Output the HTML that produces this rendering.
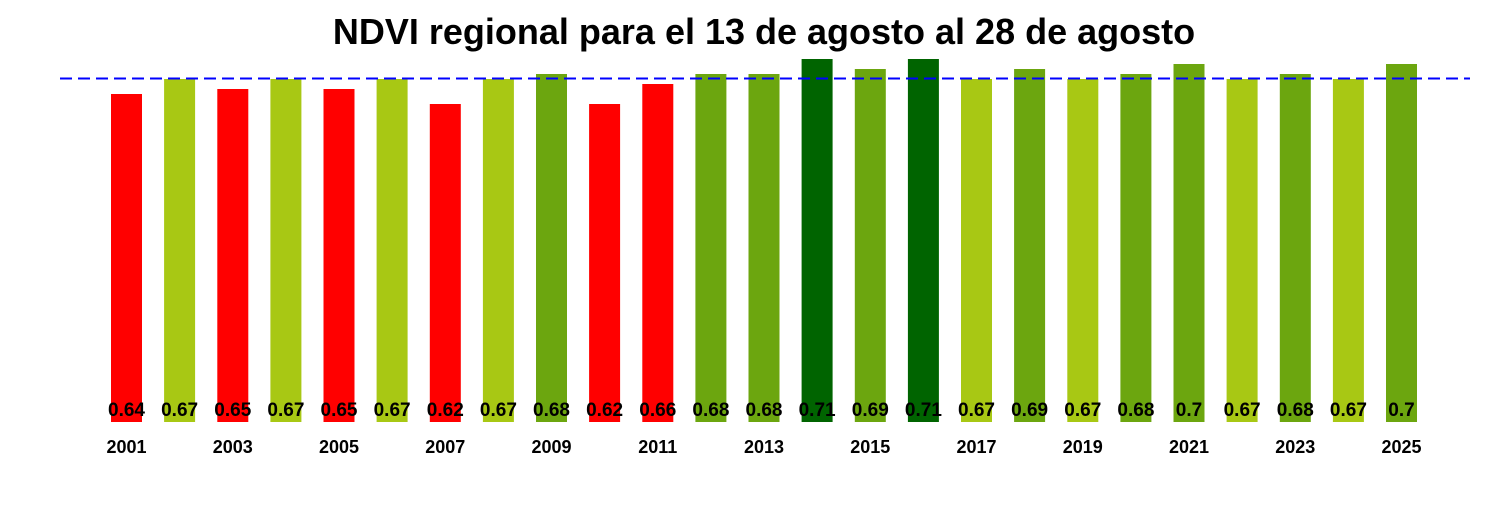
<!DOCTYPE html>
<html><head><meta charset="utf-8"><style>body{margin:0;background:#fff}</style></head><body>
<svg width="1500" height="500" xmlns="http://www.w3.org/2000/svg" font-family="Liberation Sans, Arial, sans-serif" font-weight="bold">
<rect width="1500" height="500" fill="#fff"/>
<text x="764" y="44" font-size="36" text-anchor="middle">NDVI regional para el 13 de agosto al 28 de agosto</text>
<g>
<rect x="111" y="94" width="31" height="328" fill="#ff0000"/>
<rect x="164.1" y="79" width="31" height="343" fill="#a8c814"/>
<rect x="217.3" y="89" width="31" height="333" fill="#ff0000"/>
<rect x="270.4" y="79" width="31" height="343" fill="#a8c814"/>
<rect x="323.5" y="89" width="31" height="333" fill="#ff0000"/>
<rect x="376.6" y="79" width="31" height="343" fill="#a8c814"/>
<rect x="429.8" y="104" width="31" height="318" fill="#ff0000"/>
<rect x="482.9" y="79" width="31" height="343" fill="#a8c814"/>
<rect x="536" y="74" width="31" height="348" fill="#6ca60f"/>
<rect x="589.1" y="104" width="31" height="318" fill="#ff0000"/>
<rect x="642.3" y="84" width="31" height="338" fill="#ff0000"/>
<rect x="695.4" y="74" width="31" height="348" fill="#6ca60f"/>
<rect x="748.5" y="74" width="31" height="348" fill="#6ca60f"/>
<rect x="801.6" y="59" width="31" height="363" fill="#006400"/>
<rect x="854.8" y="69" width="31" height="353" fill="#6ca60f"/>
<rect x="907.9" y="59" width="31" height="363" fill="#006400"/>
<rect x="961" y="79" width="31" height="343" fill="#a8c814"/>
<rect x="1014.1" y="69" width="31" height="353" fill="#6ca60f"/>
<rect x="1067.3" y="79" width="31" height="343" fill="#a8c814"/>
<rect x="1120.4" y="74" width="31" height="348" fill="#6ca60f"/>
<rect x="1173.5" y="64" width="31" height="358" fill="#6ca60f"/>
<rect x="1226.6" y="79" width="31" height="343" fill="#a8c814"/>
<rect x="1279.8" y="74" width="31" height="348" fill="#6ca60f"/>
<rect x="1332.9" y="79" width="31" height="343" fill="#a8c814"/>
<rect x="1386" y="64" width="31" height="358" fill="#6ca60f"/>
</g>
<g font-size="19" text-anchor="middle">
<text x="126.5" y="416">0.64</text><text x="179.6" y="416">0.67</text><text x="232.8" y="416">0.65</text><text x="285.9" y="416">0.67</text><text x="339" y="416">0.65</text><text x="392.1" y="416">0.67</text><text x="445.3" y="416">0.62</text><text x="498.4" y="416">0.67</text><text x="551.5" y="416">0.68</text><text x="604.6" y="416">0.62</text><text x="657.8" y="416">0.66</text><text x="710.9" y="416">0.68</text><text x="764" y="416">0.68</text><text x="817.1" y="416">0.71</text><text x="870.3" y="416">0.69</text><text x="923.4" y="416">0.71</text><text x="976.5" y="416">0.67</text><text x="1029.6" y="416">0.69</text><text x="1082.8" y="416">0.67</text><text x="1135.9" y="416">0.68</text><text x="1189" y="416">0.7</text><text x="1242.1" y="416">0.67</text><text x="1295.3" y="416">0.68</text><text x="1348.4" y="416">0.67</text><text x="1401.5" y="416">0.7</text>
</g>
<g font-size="18" text-anchor="middle">
<text x="126.5" y="453">2001</text><text x="232.8" y="453">2003</text><text x="339" y="453">2005</text><text x="445.3" y="453">2007</text><text x="551.5" y="453">2009</text><text x="657.8" y="453">2011</text><text x="764" y="453">2013</text><text x="870.3" y="453">2015</text><text x="976.5" y="453">2017</text><text x="1082.8" y="453">2019</text><text x="1189" y="453">2021</text><text x="1295.3" y="453">2023</text><text x="1401.5" y="453">2025</text>
</g>
<line x1="60" y1="78.5" x2="1470" y2="78.5" stroke="#0000ff" stroke-width="2" stroke-dasharray="12,6"/>
</svg>
</body></html>
